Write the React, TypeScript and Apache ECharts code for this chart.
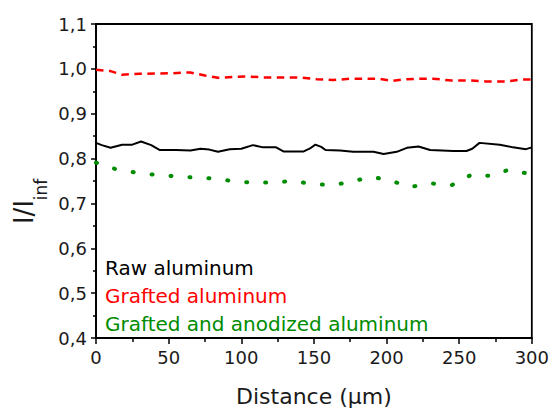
import React, { useEffect, useRef } from "react";
import * as echarts from "echarts";

const rawX = [0, 4, 10, 18, 25, 31, 38, 44, 55, 65, 72, 78, 84, 92, 100, 108, 115, 124, 129, 143, 147, 151, 155, 158, 168, 177, 191, 198, 207, 214, 222, 230, 246, 255, 259, 264, 278, 287, 296, 300];
const rawY = [0.835, 0.83, 0.824, 0.831, 0.831, 0.838, 0.83, 0.819, 0.819, 0.818, 0.822, 0.82, 0.815, 0.821, 0.822, 0.83, 0.825, 0.825, 0.816, 0.816, 0.822, 0.831, 0.826, 0.819, 0.818, 0.815, 0.815, 0.81, 0.815, 0.824, 0.827, 0.819, 0.817, 0.817, 0.822, 0.835, 0.831, 0.825, 0.821, 0.825];

const graftedX = [0, 10, 18, 30, 50, 65, 75, 84, 95, 104, 115, 140, 152, 163, 175, 195, 204, 210, 222, 232, 245, 258, 268, 282, 293, 300];
const graftedY = [0.998, 0.995, 0.987, 0.989, 0.99, 0.992, 0.985, 0.98, 0.982, 0.983, 0.981, 0.981, 0.977, 0.975, 0.978, 0.978, 0.973, 0.976, 0.978, 0.978, 0.974, 0.974, 0.972, 0.972, 0.976, 0.976];

const anodizedX = [0, 14, 27, 40, 53, 66, 80, 96, 110, 122, 136, 149, 164, 177, 190, 203, 216, 229, 245, 259, 272, 284, 300];
const anodizedY = [0.791, 0.776, 0.769, 0.764, 0.761, 0.758, 0.756, 0.749, 0.746, 0.747, 0.75, 0.743, 0.741, 0.75, 0.759, 0.751, 0.736, 0.745, 0.741, 0.765, 0.761, 0.775, 0.765];

const seriesNames = ["Raw aluminum", "Grafted aluminum", "Grafted and anodized aluminum"];
const seriesColors = ["#000000", "#ff0000", "#008c00"];

const FONT = "DejaVu Sans";
const TEXT = "#1a1a1a";

const pairs = (xs: number[], ys: number[]) => xs.map((x, i) => [x, ys[i]]);

export default function App() {
  const ref = useRef<HTMLDivElement>(null);
  useEffect(() => {
    document.body.style.margin = "0";
    const chart = echarts.init(ref.current!, null, { renderer: "svg" });
    const axisLine = { show: true, lineStyle: { color: "#000", width: 1.8 } };
    chart.setOption({
      animation: false,
      grid: { left: 96, right: 20, top: 24, bottom: 69, show: true, borderColor: "#000", borderWidth: 1.8 },
      legend: {
        orient: "vertical",
        left: 95,
        top: 249,
        icon: "none",
        itemWidth: 0,
        itemHeight: 0,
        itemGap: 0,
        selectedMode: false,
        textStyle: { fontFamily: FONT, fontSize: 20, lineHeight: 28 },
        data: seriesNames.map((n, i) => ({ name: n, textStyle: { color: seriesColors[i] } })),
      },
      xAxis: {
        type: "value",
        min: 0,
        max: 300,
        interval: 50,
        axisLine,
        axisTick: { show: true, inside: false, length: 6, lineStyle: { color: "#000", width: 1.5 } },
        minorTick: { show: true, splitNumber: 2, length: 4, lineStyle: { color: "#000", width: 1.5 } },
        splitLine: { show: false },
        axisLabel: { fontFamily: FONT, fontSize: 18, color: TEXT, margin: 10 },
        name: "Distance (µm)",
        nameLocation: "middle",
        nameGap: 58,
        nameTextStyle: { fontFamily: FONT, fontSize: 22, color: TEXT, verticalAlign: "middle" },
      },
      yAxis: {
        type: "value",
        min: 0.4,
        max: 1.1,
        interval: 0.1,
        axisLine,
        axisTick: { show: true, inside: false, length: 5, lineStyle: { color: "#000", width: 1.5 } },
        minorTick: { show: true, splitNumber: 2, length: 3, lineStyle: { color: "#000", width: 1.5 } },
        splitLine: { show: false },
        axisLabel: {
          fontFamily: FONT,
          fontSize: 18,
          color: TEXT,
          margin: 9,
          formatter: (v: number) => v.toFixed(1).replace(".", ","),
        },
      },
      graphic: [
        {
          type: "text",
          x: 23.5,
          y: 212,
          rotation: Math.PI / 2,
          style: { text: "I/I", fontFamily: FONT, fontSize: 26, fill: TEXT, align: "center", verticalAlign: "middle", textAlign: "center", textVerticalAlign: "middle" },
        },
        {
          type: "text",
          x: 41,
          y: 189.5,
          rotation: Math.PI / 2,
          style: { text: "inf", fontFamily: FONT, fontSize: 17, fill: TEXT, align: "center", verticalAlign: "middle", textAlign: "center", textVerticalAlign: "middle" },
        },
      ],
      series: [
        {
          name: seriesNames[0],
          type: "line",
          data: pairs(rawX, rawY),
          showSymbol: false,
          symbol: "none",
          color: seriesColors[0],
          lineStyle: { color: seriesColors[0], width: 2 },
        },
        {
          name: seriesNames[1],
          type: "line",
          data: pairs(graftedX, graftedY),
          showSymbol: false,
          symbol: "none",
          color: seriesColors[1],
          lineStyle: { color: seriesColors[1], width: 2.5, type: [7.5, 5.5] },
        },
        {
          name: seriesNames[2],
          type: "line",
          data: pairs(anodizedX, anodizedY),
          showSymbol: false,
          symbol: "none",
          color: seriesColors[2],
          lineStyle: { color: seriesColors[2], width: 4, type: [1, 18], cap: "round" },
        },
      ],
    });
    return () => chart.dispose();
  }, []);
  return <div ref={ref} style={{ width: 552, height: 412 }} />;
}
